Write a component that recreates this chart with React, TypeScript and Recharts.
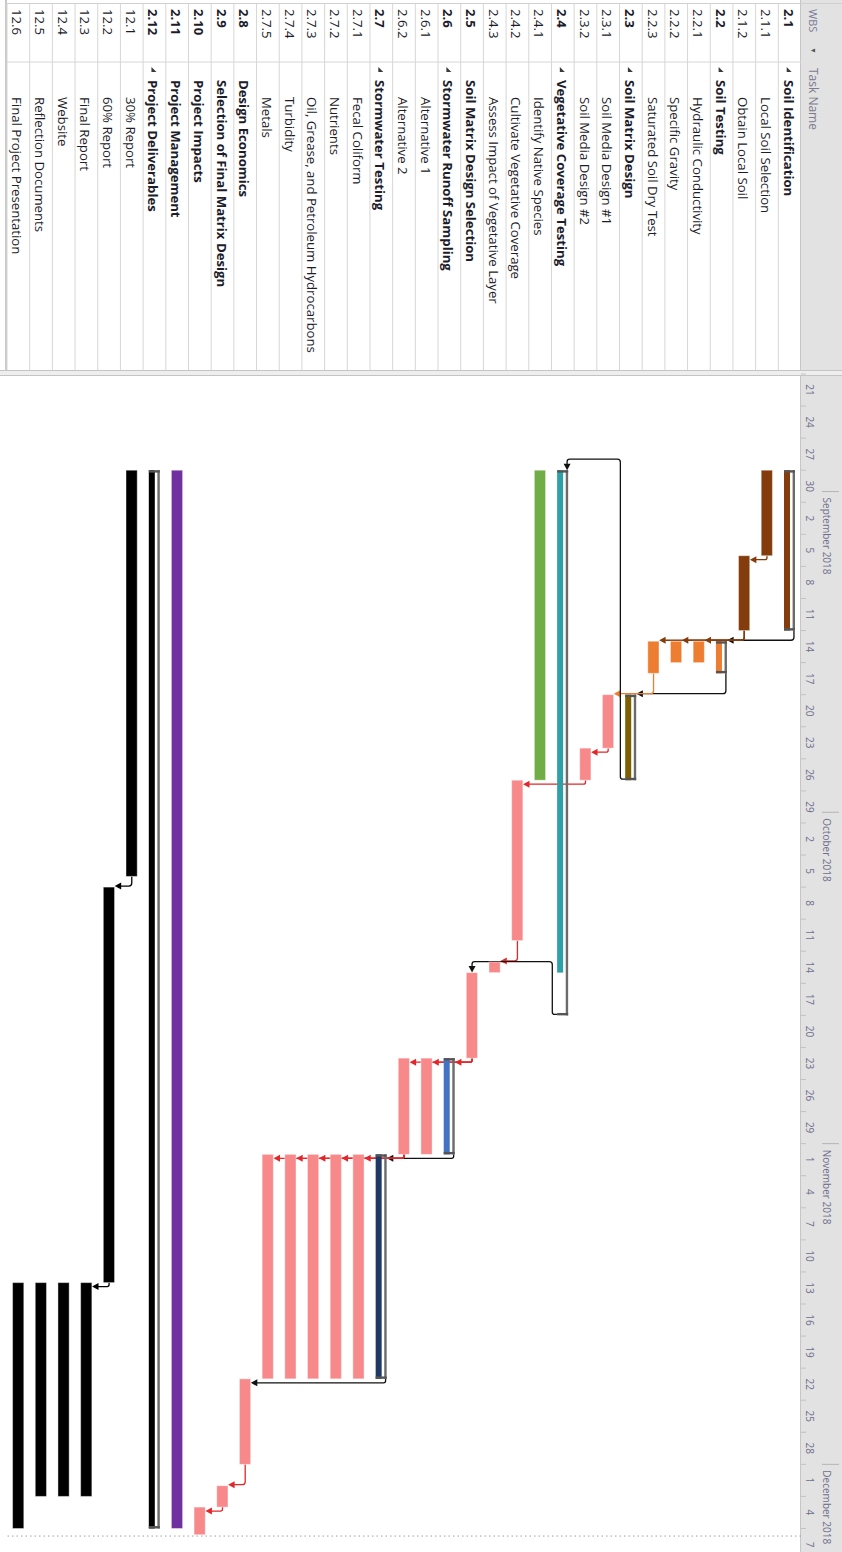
import { Bar, BarChart, ReferenceLine, XAxis, YAxis, usePlotArea } from 'recharts'

// layout of the unrotated Gantt view (it is turned 90° clockwise on the page)
const CHART_W = 1552
const CHART_H = 842
const HEADER_H = 41
const TABLE_W = 374
const BOTTOM_GAP = 7
const DAY_SPAN = 110.2
const PX_PER_DAY = (CHART_W - TABLE_W) / DAY_SPAN
const FONT = '"Segoe UI", "Open Sans", "Noto Sans", sans-serif'
const ROW_FONT_SIZE = 13.2

const timescaleStart = '2018-08-21'

const wbsCodes = [
  '2.1', '2.1.1', '2.1.2', '2.2', '2.2.1', '2.2.2', '2.2.3', '2.3', '2.3.1', '2.3.2',
  '2.4', '2.4.1', '2.4.2', '2.4.3', '2.5', '2.6', '2.6.1', '2.6.2', '2.7', '2.7.1',
  '2.7.2', '2.7.3', '2.7.4', '2.7.5', '2.8', '2.9', '2.10', '2.11', '2.12', '12.1',
  '12.2', '12.3', '12.4', '12.5', '12.6',
]

const taskNames = [
  'Soil Identification', 'Local Soil Selection', 'Obtain Local Soil', 'Soil Testing',
  'Hydraulic Conductivity', 'Specific Gravity', 'Saturated Soil Dry Test', 'Soil Matrix Design',
  'Soil Media Design #1', 'Soil Media Design #2', 'Vegetative Coverage Testing',
  'Identify Native Species', 'Cultivate Vegetative Coverage', 'Assess Impact of Vegetative Layer',
  'Soil Matrix Design Selection', 'Stormwater Runoff Sampling', 'Alternative 1', 'Alternative 2',
  'Stormwater Testing', 'Fecal Coliform', 'Nutrients', 'Oil, Grease, and Petroleum Hydrocarbons',
  'Turbidity', 'Metals', 'Design Economics', 'Selection of Final Matrix Design', 'Project Impacts',
  'Project Management', 'Project Deliverables', '30% Report', '60% Report', 'Final Report',
  'Website', 'Reflection Documents', 'Final Project Presentation',
]

const outlineLevels = [
  1, 2, 2, 1, 2, 2, 2, 1, 2, 2, 1, 2, 2, 2, 1, 1, 2, 2, 1, 2, 2, 2, 2, 2, 1, 1, 1, 1, 1, 2, 2, 2, 2, 2, 2,
]

const summaryTasks = ['2.1', '2.2', '2.3', '2.4', '2.6', '2.7', '2.12']

const startDates = [
  '2018-08-30', '2018-08-30', '2018-09-07', '2018-09-15', '2018-09-15', '2018-09-15', '2018-09-15',
  '2018-09-20', '2018-09-20', '2018-09-25', '2018-08-30', '2018-08-30', '2018-09-28', '2018-10-15',
  '2018-10-16', '2018-10-24', '2018-10-24', '2018-10-24', '2018-11-02', '2018-11-02', '2018-11-02',
  '2018-11-02', '2018-11-02', '2018-11-02', '2018-11-23', '2018-12-03', '2018-12-05', '2018-08-30',
  '2018-08-30', '2018-08-30', '2018-10-08', '2018-11-14', '2018-11-14', '2018-11-14', '2018-11-14',
]

const finishDates = [
  '2018-09-13', '2018-09-06', '2018-09-13', '2018-09-17', '2018-09-16', '2018-09-16', '2018-09-17',
  '2018-09-27', '2018-09-24', '2018-09-27', '2018-10-15', '2018-09-27', '2018-10-12', '2018-10-15',
  '2018-10-23', '2018-11-01', '2018-11-01', '2018-11-01', '2018-11-22', '2018-11-22', '2018-11-22',
  '2018-11-22', '2018-11-22', '2018-11-22', '2018-11-30', '2018-12-04', '2018-12-07T14:00', '2018-12-06',
  '2018-12-06', '2018-10-06', '2018-11-13', '2018-12-03', '2018-12-03', '2018-12-03', '2018-12-06',
]

// 2.4's summary bracket runs on past its last sub task
const summaryBracketFinish: Record<string, string> = { '2.4': '2018-10-19' }

const dependencies: [string, string][] = [
  ['2.1.1', '2.1.2'], ['2.1', '2.2'], ['2.1.2', '2.2.1'], ['2.1.2', '2.2.2'], ['2.1.2', '2.2.3'],
  ['2.2', '2.3'], ['2.2.3', '2.3.1'], ['2.3.1', '2.3.2'], ['2.3', '2.4'], ['2.3.2', '2.4.2'],
  ['2.4.2', '2.4.3'], ['2.4', '2.5'], ['2.5', '2.6'], ['2.5', '2.6.1'], ['2.5', '2.6.2'],
  ['2.6', '2.7'], ['2.6.2', '2.7.1'], ['2.6.2', '2.7.2'], ['2.6.2', '2.7.3'], ['2.6.2', '2.7.4'],
  ['2.6.2', '2.7.5'], ['2.7', '2.8'], ['2.8', '2.9'], ['2.9', '2.10'], ['12.1', '12.2'], ['12.2', '12.3'],
]

const monthStarts = ['2018-09-01', '2018-10-01', '2018-11-01', '2018-12-01']
const monthLabels = ['September 2018', 'October 2018', 'November 2018', 'December 2018']
const dayTickStep = 3
const lastDayTick = '2018-12-07'
const projectFinish = '2018-12-07T17:00'

// bar colours (styles, kept apart from the data)
const BROWN = '#843C0C'
const ORANGE = '#ED7D31'
const OLIVE = '#7F6000'
const PINK = '#F7898B'
const TEAL = '#2DA0A8'
const GREEN = '#70AD47'
const BLUE = '#4472C4'
const NAVY = '#203864'
const PURPLE = '#7030A0'
const BLACK = '#000000'
const LINK_RED = '#E3262A'

const BAR_COLOR: Record<string, string> = {
  '2.1': BROWN, '2.1.1': BROWN, '2.1.2': BROWN,
  '2.2': ORANGE, '2.2.1': ORANGE, '2.2.2': ORANGE, '2.2.3': ORANGE,
  '2.3': OLIVE, '2.3.1': PINK, '2.3.2': PINK,
  '2.4': TEAL, '2.4.1': GREEN, '2.4.2': PINK, '2.4.3': PINK,
  '2.5': PINK, '2.6': BLUE, '2.6.1': PINK, '2.6.2': PINK,
  '2.7': NAVY, '2.7.1': PINK, '2.7.2': PINK, '2.7.3': PINK, '2.7.4': PINK, '2.7.5': PINK,
  '2.8': PINK, '2.9': PINK, '2.10': PINK, '2.11': PURPLE,
  '2.12': BLACK, '12.1': BLACK, '12.2': BLACK, '12.3': BLACK, '12.4': BLACK, '12.5': BLACK, '12.6': BLACK,
}

function utcOf(dateStr: string): number {
  const [y, m, d] = dateStr.split('-').map(Number)
  return Date.UTC(y, m - 1, d)
}

/** day offset from the timescale start; a plain finish date covers the whole day */
function dayOf(s: string, isFinish = false): number {
  const [date, time] = s.split('T')
  const base = (utcOf(date) - utcOf(timescaleStart)) / 86400000
  if (time) {
    const [h, mi] = time.split(':').map(Number)
    return base + (h + mi / 60) / 24
  }
  return isFinish ? base + 1 : base
}

type Row = {
  wbs: string
  name: string
  level: number
  summary: boolean
  span: [number, number]
  bracketEnd: number | null
}

const rows: Row[] = wbsCodes.map((wbs, i) => ({
  wbs,
  name: taskNames[i],
  level: outlineLevels[i],
  summary: summaryTasks.includes(wbs),
  span: [dayOf(startDates[i]), dayOf(finishDates[i], true)],
  bracketEnd: summaryBracketFinish[wbs] ? dayOf(summaryBracketFinish[wbs], true) : null,
}))

const ROW_H = (CHART_H - HEADER_H - BOTTOM_GAP) / rows.length
const monthStartDays = monthStarts.map((m) => dayOf(m))
const dayTicks: number[] = []
for (let d = 0; d <= dayOf(lastDayTick); d += dayTickStep) dayTicks.push(d)
const timeTicks = Array.from(new Set([...dayTicks, ...monthStartDays])).sort((a, b) => a - b)

function TaskBar(props: any) {
  const { x, y, width, height, payload } = props
  if (x == null || width == null || payload == null) return null
  const color = BAR_COLOR[payload.wbs]
  const cy = y + height / 2
  if (!payload.summary) {
    return (
      <rect x={x} y={cy - 5.6} width={width} height={11.2} fill={color}
        stroke="#ffffff" strokeOpacity={0.4} strokeWidth={1} />
    )
  }
  const [s, e] = payload.span
  const pxPerDay = width / (e - s)
  const top = cy - 5.5
  const endX = payload.bracketEnd != null ? x + (payload.bracketEnd - s) * pxPerDay : x + width
  return (
    <g>
      <rect x={x} y={top + 5} width={width} height={6} fill={color} />
      <rect x={x} y={top} width={endX - x} height={2.4} fill="#6b6b6b" />
      <rect x={x} y={top} width={2.4} height={11} fill="#555555" />
      <rect x={endX - 2.4} y={top} width={2.4} height={11} fill="#555555" />
    </g>
  )
}

function roundedPath(pts: [number, number][], r = 3): string {
  let d = `M${pts[0][0]},${pts[0][1]}`
  for (let i = 1; i < pts.length - 1; i++) {
    const [x0, y0] = pts[i - 1]
    const [x1, y1] = pts[i]
    const [x2, y2] = pts[i + 1]
    const l1 = Math.hypot(x1 - x0, y1 - y0)
    const l2 = Math.hypot(x2 - x1, y2 - y1)
    if (l1 < 0.01 || l2 < 0.01) {
      d += ` L${x1},${y1}`
      continue
    }
    const rr = Math.min(r, l1 / 2, l2 / 2)
    const ax = x1 - ((x1 - x0) / l1) * rr
    const ay = y1 - ((y1 - y0) / l1) * rr
    const bx = x1 + ((x2 - x1) / l2) * rr
    const by = y1 + ((y2 - y1) / l2) * rr
    d += ` L${ax},${ay} Q${x1},${y1} ${bx},${by}`
  }
  const last = pts[pts.length - 1]
  return d + ` L${last[0]},${last[1]}`
}

function Links() {
  const plot = usePlotArea()
  if (plot == null) return null
  const rowH = plot.height / rows.length
  const px = (d: number) => plot.x + (d / DAY_SPAN) * plot.width
  const geo = (wbs: string) => {
    const i = rows.findIndex((r) => r.wbs === wbs)
    const r = rows[i]
    const cy = plot.y + (i + 0.5) * rowH
    const half = r.summary ? 5.5 : 5.6
    return {
      r,
      cy,
      top: cy - half,
      bottom: cy + half,
      start: px(r.span[0]),
      end: px(r.bracketEnd ?? r.span[1]),
      anchorY: r.summary ? cy - half + 1.2 : cy,
    }
  }
  return (
    <g>
      {dependencies.map(([a, b]) => {
        const p = geo(a)
        const s = geo(b)
        const fill = BAR_COLOR[a]
        const color = p.r.summary ? '#111111' : fill === PINK ? LINK_RED : fill
        let d: string
        let arrow: string
        if (s.start >= p.end - 8) {
          const segX = Math.max(s.start - 1, p.end + 4)
          d = roundedPath([[p.end, p.anchorY], [segX, p.anchorY], [segX, s.top - 6]])
          arrow = `${segX - 3.5},${s.top - 6.5} ${segX + 3.5},${s.top - 6.5} ${segX},${s.top}`
        } else {
          const entryY = s.r.summary ? s.top + 1.2 : s.cy
          const backX = s.start - 11
          d = roundedPath([
            [p.end - 1, p.bottom],
            [p.end - 1, p.bottom + 5],
            [backX, p.bottom + 5],
            [backX, entryY],
            [s.start - 6, entryY],
          ])
          arrow = `${s.start - 6.5},${entryY - 3.5} ${s.start - 6.5},${entryY + 3.5} ${s.start},${entryY}`
        }
        return (
          <g key={`${a}-${b}`}>
            <path d={d} fill="none" stroke={color} strokeWidth={1.3} />
            <polygon points={arrow} fill={color} />
          </g>
        )
      })}
    </g>
  )
}

function TimescaleTick(props: any) {
  const { x, payload } = props
  if (x == null || payload == null) return null
  const v = payload.value as number
  const mi = monthStartDays.indexOf(v)
  const dayNum = new Date(utcOf(timescaleStart) + v * 86400000).getUTCDate()
  return (
    <g>
      {mi >= 0 ? (
        <g>
          <line x1={x} x2={x} y1={3} y2={20} stroke="#b4b4b4" strokeWidth={1} />
          <text x={x + 6} y={15} fontSize={10} fontFamily={FONT} fill="#6f6f8c" dominantBaseline="central">
            {monthLabels[mi]}
          </text>
        </g>
      ) : null}
      {v % dayTickStep === 0 ? (
        <g>
          <line x1={x} x2={x} y1={36} y2={41} stroke="#c2c2c2" strokeWidth={1} />
          <text x={x + (dayTickStep * PX_PER_DAY) / 2} y={32} fontSize={10} fontFamily={FONT}
            fill="#6f6f8c" textAnchor="middle" dominantBaseline="central">
            {dayNum}
          </text>
        </g>
      ) : null}
    </g>
  )
}

function TableRow(props: any) {
  const { y, payload, index } = props
  if (y == null || payload == null) return null
  const row = rows[index] ?? rows.find((r) => r.wbs === payload.value)
  if (row == null) return null
  const bold = row.level === 1
  const nameX = row.level === 1 ? 80 : 97
  return (
    <g>
      <line x1={3} x2={370} y1={y + ROW_H / 2} y2={y + ROW_H / 2} stroke="#d6d6d6" strokeWidth={1} />
      <line x1={62} x2={62} y1={y - ROW_H / 2} y2={y + ROW_H / 2} stroke="#d6d6d6" strokeWidth={1} />
      <text x={9} y={y + 1} fontSize={ROW_FONT_SIZE} fontFamily={FONT} fontWeight={bold ? 700 : 400}
        fill="#1c1c2a" dominantBaseline="central">
        {row.wbs}
      </text>
      {row.summary ? (
        <polygon points={`${72},${y - 2} ${72},${y + 3} ${67},${y + 3}`} fill="#3a3a3a" />
      ) : null}
      <text x={nameX} y={y + 1} fontSize={ROW_FONT_SIZE} fontFamily={FONT} fontWeight={bold ? 700 : 400}
        fill="#1c1c2a" dominantBaseline="central">
        {row.name}
      </text>
    </g>
  )
}

export default function App() {
  return (
    <div style={{ position: 'absolute', left: 0, top: 0, width: CHART_H, height: CHART_W, overflow: 'hidden', background: '#ffffff' }}>
      <div
        style={{
          position: 'absolute', left: 0, top: 0, width: CHART_W, height: CHART_H,
          transform: `translateX(${CHART_H}px) rotate(90deg)`, transformOrigin: '0 0',
        }}
      >
        {/* table + timescale header chrome */}
        <div style={{ position: 'absolute', left: 0, top: 0, width: 370, height: HEADER_H, background: '#e2e2e2' }} />
        <div style={{ position: 'absolute', left: 376, top: 0, width: CHART_W - 376, height: HEADER_H, background: '#e2e2e2' }} />
        <div style={{ position: 'absolute', left: 9, top: 21, height: 16, lineHeight: '16px', fontFamily: FONT, fontSize: 11, color: '#7c7c98' }}>WBS</div>
        <div style={{ position: 'absolute', left: 47, top: 21, height: 16, lineHeight: '16px', fontFamily: FONT, fontSize: 7, color: '#555' }}>▼</div>
        <div style={{ position: 'absolute', left: 68, top: 21, height: 16, lineHeight: '16px', fontFamily: FONT, fontSize: 12, color: '#7c7c8c' }}>Task Name</div>
        <div style={{ position: 'absolute', left: 0, top: HEADER_H, width: CHART_W, height: 1, background: '#c6c6c6' }} />
        <div style={{ position: 'absolute', left: 3, top: 0, width: 1, height: CHART_H - BOTTOM_GAP, background: '#d0d0d0' }} />
        <div style={{ position: 'absolute', left: 0, top: CHART_H - BOTTOM_GAP - 0.5, width: 370, height: 2, background: '#c8c8c8' }} />
        <div style={{ position: 'absolute', left: 370, top: 0, width: 4, height: CHART_H, background: '#eeeeee', borderLeft: '1px solid #c4c4c4', borderRight: '1px solid #c4c4c4' }} />
        <div style={{ position: 'absolute', left: 0, top: 0 }}>
          <BarChart
            width={CHART_W}
            height={CHART_H}
            data={rows}
            layout="vertical"
            barCategoryGap={0}
            margin={{ top: 0, right: 0, bottom: BOTTOM_GAP, left: 0 }}
          >
            <XAxis
              type="number"
              orientation="top"
              domain={[0, DAY_SPAN]}
              allowDataOverflow
              ticks={timeTicks}
              interval={0}
              height={HEADER_H}
              tick={(p: any) => <TimescaleTick {...p} />}
              tickLine={false}
              axisLine={false}
            />
            <YAxis
              type="category"
              dataKey="wbs"
              width={TABLE_W}
              interval={0}
              tick={(p: any) => <TableRow {...p} />}
              tickLine={false}
              axisLine={false}
            />
            <Bar dataKey="span" isAnimationActive={false} shape={(p: any) => <TaskBar {...p} />} />
            <ReferenceLine x={dayOf(projectFinish)} stroke="#a0a0a0" strokeDasharray="1.5 3" strokeWidth={1} />
            <Links />
          </BarChart>
        </div>
      </div>
    </div>
  )
}
